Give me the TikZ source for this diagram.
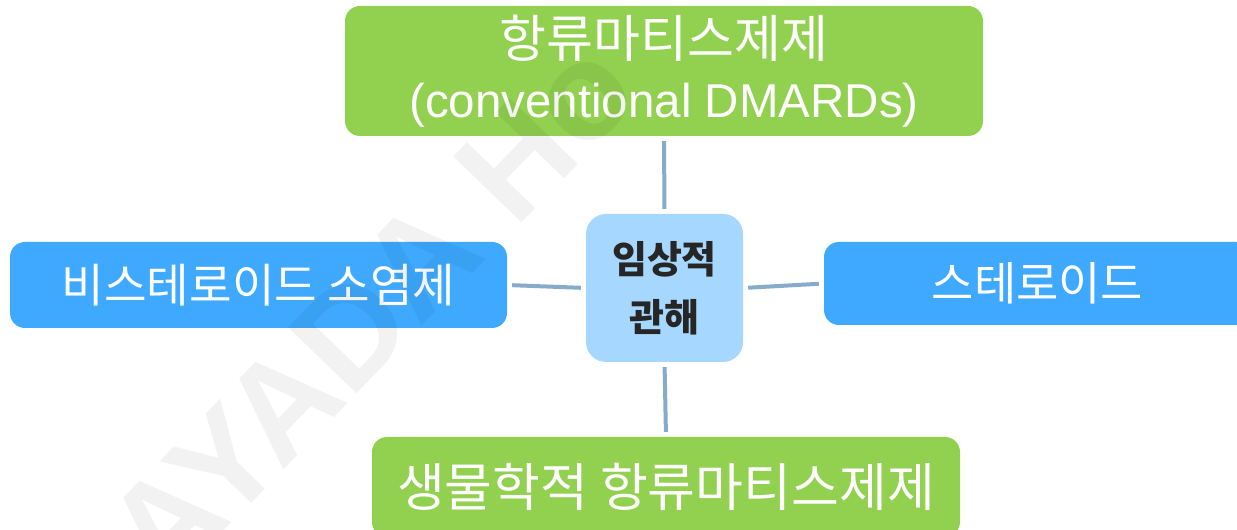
\documentclass[tikz,border=0pt]{standalone}
\usepackage{fontspec}
\setmainfont{Liberation Sans}
\newfontfamily\cjk{Noto Sans CJK KR}
\definecolor{boxgreen}{HTML}{92D050}
\definecolor{boxblue}{HTML}{3EA9FF}
\definecolor{hubblue}{HTML}{A6D7FF}
\definecolor{linkcol}{HTML}{86ABCB}
\definecolor{hubtext}{HTML}{262626}
\tikzset{
  branch/.style={rectangle, rounded corners=15pt, inner sep=0pt, text=white, align=center},
  greenbox/.style={branch, fill=boxgreen},
  bluebox/.style={branch, fill=boxblue},
  hub/.style={rectangle, rounded corners=20pt, fill=hubblue, text=hubtext, align=center,
    inner sep=0pt, font=\cjk\bfseries\fontsize{38}{58}\selectfont},
  link/.style={draw=linkcol, line width=4pt, shorten <=5pt, shorten >=5pt},
  watermark/.style={text=black, text opacity=0.05, inner sep=0pt,
    font=\bfseries\fontsize{138}{138}\selectfont, rotate=46}
}
\begin{document}
\begin{tikzpicture}[x=1pt,y=1pt]
\useasboundingbox (0,0) rectangle (1237,530);
\node[greenbox, minimum width=638pt, minimum height=130pt, font=\fontsize{51}{60}\selectfont]
  (dmard) at (664,459) {{\cjk 항류마티스제제}\\{\fontsize{47.5}{60}\selectfont (conventional DMARDs)}};
\node[bluebox, minimum width=497pt, minimum height=86pt, font=\cjk\fontsize{46.3}{50}\selectfont]
  (nsaid) at (258.5,245) {비스테로이드 소염제};
\node[hub, minimum width=157pt, minimum height=148pt] (hub) at (664.5,242) {임상적\\관해};
\node[bluebox, minimum width=427pt, minimum height=83pt, font=\cjk\fontsize{46}{50}\selectfont]
  (steroid) at (1037.5,246.5) {스테로이드};
\node[greenbox, minimum width=588pt, minimum height=100pt, font=\cjk\fontsize{52}{56}\selectfont]
  (bio) at (666,43) {생물학적 항류마티스제제};
\draw[link] (dmard.south) -- (hub.north);
\draw[link] (nsaid.east) -- (hub.west);
\draw[link] (hub.east) -- (steroid.west);
\draw[link] (hub.south) -- (bio.north);
\node[watermark] (wm) at (371,218) {AYADA Ho};
\end{tikzpicture}
\end{document}
